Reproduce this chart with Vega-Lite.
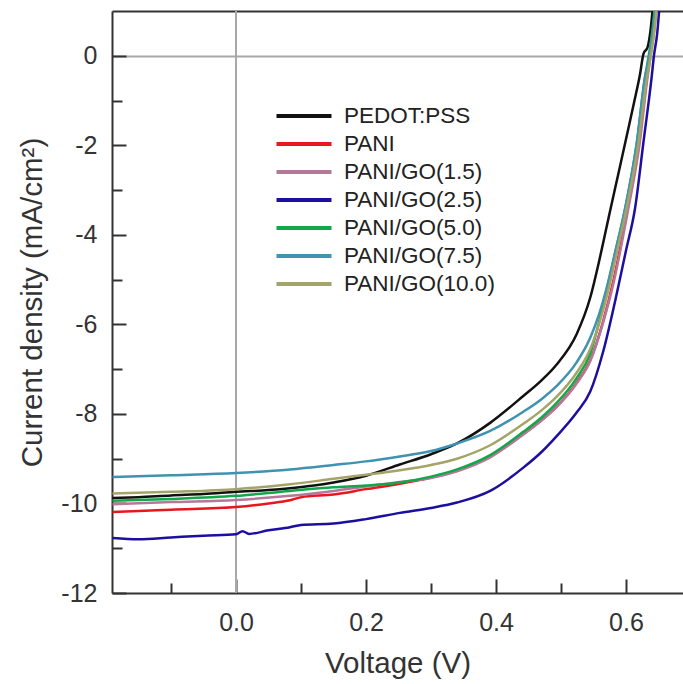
{
  "$schema": "https://vega.github.io/schema/vega-lite/v6.json",
  "width": 571,
  "height": 582,
  "autosize": {"type": "none"},
  "padding": {"left": 112, "top": 11, "right": 0, "bottom": 91},
  "background": "white",
  "config": {
    "view": {"stroke": null},
    "axis": {
      "domainColor": "#333333",
      "domainWidth": 2,
      "tickColor": "#333333",
      "tickWidth": 2,
      "labelFont": "Liberation Sans",
      "labelFontSize": 25,
      "labelColor": "#333333",
      "titleFont": "Liberation Sans",
      "titleFontSize": 29.5,
      "titleFontWeight": "normal",
      "titleColor": "#333333"
    },
    "legend": {
      "labelFont": "Liberation Sans",
      "labelFontSize": 22.5,
      "labelColor": "#222222"
    }
  },
  "data": {"values": [
    {"s":"PEDOT:PSS","v":-0.19,"j":-9.88},{"s":"PEDOT:PSS","v":-0.15,"j":-9.86},{"s":"PEDOT:PSS","v":-0.1,"j":-9.82},{"s":"PEDOT:PSS","v":-0.05,"j":-9.79},{"s":"PEDOT:PSS","v":0,"j":-9.74},{"s":"PEDOT:PSS","v":0.05,"j":-9.7},{"s":"PEDOT:PSS","v":0.083,"j":-9.66},{"s":"PEDOT:PSS","v":0.12,"j":-9.6},{"s":"PEDOT:PSS","v":0.15,"j":-9.53},{"s":"PEDOT:PSS","v":0.2,"j":-9.38},{"s":"PEDOT:PSS","v":0.252,"j":-9.13},{"s":"PEDOT:PSS","v":0.3,"j":-8.9},{"s":"PEDOT:PSS","v":0.34,"j":-8.66},{"s":"PEDOT:PSS","v":0.391,"j":-8.2},{"s":"PEDOT:PSS","v":0.442,"j":-7.6},{"s":"PEDOT:PSS","v":0.47,"j":-7.25},{"s":"PEDOT:PSS","v":0.493,"j":-6.9},{"s":"PEDOT:PSS","v":0.524,"j":-6.22},{"s":"PEDOT:PSS","v":0.545,"j":-5.4},{"s":"PEDOT:PSS","v":0.56,"j":-4.5},{"s":"PEDOT:PSS","v":0.575,"j":-3.5},{"s":"PEDOT:PSS","v":0.588,"j":-2.65},{"s":"PEDOT:PSS","v":0.601,"j":-1.8},{"s":"PEDOT:PSS","v":0.612,"j":-1.07},{"s":"PEDOT:PSS","v":0.6215,"j":-0.42},{"s":"PEDOT:PSS","v":0.627,"j":0.05},{"s":"PEDOT:PSS","v":0.633,"j":0.18},{"s":"PEDOT:PSS","v":0.638,"j":0.6},{"s":"PEDOT:PSS","v":0.642,"j":1.2},

    {"s":"PANI","v":-0.19,"j":-10.19},{"s":"PANI","v":-0.15,"j":-10.17},{"s":"PANI","v":-0.1,"j":-10.14},{"s":"PANI","v":0,"j":-10.08},{"s":"PANI","v":0.05,"j":-10.0},{"s":"PANI","v":0.083,"j":-9.93},{"s":"PANI","v":0.1,"j":-9.86},{"s":"PANI","v":0.15,"j":-9.8},{"s":"PANI","v":0.2,"j":-9.68},{"s":"PANI","v":0.252,"j":-9.56},{"s":"PANI","v":0.3,"j":-9.42},{"s":"PANI","v":0.34,"j":-9.27},{"s":"PANI","v":0.391,"j":-8.95},{"s":"PANI","v":0.442,"j":-8.45},{"s":"PANI","v":0.47,"j":-8.14},{"s":"PANI","v":0.493,"j":-7.84},{"s":"PANI","v":0.524,"j":-7.3},{"s":"PANI","v":0.545,"j":-6.8},{"s":"PANI","v":0.565,"j":-5.92},{"s":"PANI","v":0.581,"j":-5.0},{"s":"PANI","v":0.591,"j":-4.3},{"s":"PANI","v":0.602,"j":-3.46},{"s":"PANI","v":0.62,"j":-1.96},{"s":"PANI","v":0.632,"j":-0.5},{"s":"PANI","v":0.637,"j":0},{"s":"PANI","v":0.642,"j":0.5},{"s":"PANI","v":0.647,"j":1.2},

    {"s":"PANI/GO(1.5)","v":-0.19,"j":-10.02},{"s":"PANI/GO(1.5)","v":-0.1,"j":-9.97},{"s":"PANI/GO(1.5)","v":0,"j":-9.92},{"s":"PANI/GO(1.5)","v":0.083,"j":-9.83},{"s":"PANI/GO(1.5)","v":0.15,"j":-9.72},{"s":"PANI/GO(1.5)","v":0.2,"j":-9.62},{"s":"PANI/GO(1.5)","v":0.252,"j":-9.52},{"s":"PANI/GO(1.5)","v":0.3,"j":-9.43},{"s":"PANI/GO(1.5)","v":0.34,"j":-9.28},{"s":"PANI/GO(1.5)","v":0.391,"j":-8.97},{"s":"PANI/GO(1.5)","v":0.442,"j":-8.46},{"s":"PANI/GO(1.5)","v":0.47,"j":-8.15},{"s":"PANI/GO(1.5)","v":0.493,"j":-7.85},{"s":"PANI/GO(1.5)","v":0.524,"j":-7.32},{"s":"PANI/GO(1.5)","v":0.545,"j":-6.82},{"s":"PANI/GO(1.5)","v":0.565,"j":-5.95},{"s":"PANI/GO(1.5)","v":0.582,"j":-5.0},{"s":"PANI/GO(1.5)","v":0.592,"j":-4.3},{"s":"PANI/GO(1.5)","v":0.603,"j":-3.46},{"s":"PANI/GO(1.5)","v":0.621,"j":-1.96},{"s":"PANI/GO(1.5)","v":0.633,"j":-0.5},{"s":"PANI/GO(1.5)","v":0.638,"j":0},{"s":"PANI/GO(1.5)","v":0.643,"j":0.5},{"s":"PANI/GO(1.5)","v":0.648,"j":1.2},

    {"s":"PANI/GO(2.5)","v":-0.19,"j":-10.77},{"s":"PANI/GO(2.5)","v":-0.15,"j":-10.8},{"s":"PANI/GO(2.5)","v":-0.1,"j":-10.76},{"s":"PANI/GO(2.5)","v":-0.05,"j":-10.72},{"s":"PANI/GO(2.5)","v":0,"j":-10.69},{"s":"PANI/GO(2.5)","v":0.01,"j":-10.62},{"s":"PANI/GO(2.5)","v":0.02,"j":-10.68},{"s":"PANI/GO(2.5)","v":0.05,"j":-10.6},{"s":"PANI/GO(2.5)","v":0.083,"j":-10.53},{"s":"PANI/GO(2.5)","v":0.1,"j":-10.48},{"s":"PANI/GO(2.5)","v":0.15,"j":-10.45},{"s":"PANI/GO(2.5)","v":0.2,"j":-10.35},{"s":"PANI/GO(2.5)","v":0.252,"j":-10.21},{"s":"PANI/GO(2.5)","v":0.3,"j":-10.1},{"s":"PANI/GO(2.5)","v":0.34,"j":-9.98},{"s":"PANI/GO(2.5)","v":0.391,"j":-9.72},{"s":"PANI/GO(2.5)","v":0.442,"j":-9.2},{"s":"PANI/GO(2.5)","v":0.47,"j":-8.85},{"s":"PANI/GO(2.5)","v":0.493,"j":-8.5},{"s":"PANI/GO(2.5)","v":0.524,"j":-7.97},{"s":"PANI/GO(2.5)","v":0.545,"j":-7.5},{"s":"PANI/GO(2.5)","v":0.565,"j":-6.6},{"s":"PANI/GO(2.5)","v":0.586,"j":-5.3},{"s":"PANI/GO(2.5)","v":0.6,"j":-4.35},{"s":"PANI/GO(2.5)","v":0.614,"j":-3.4},{"s":"PANI/GO(2.5)","v":0.6266,"j":-1.96},{"s":"PANI/GO(2.5)","v":0.6395,"j":-0.47},{"s":"PANI/GO(2.5)","v":0.643,"j":0},{"s":"PANI/GO(2.5)","v":0.648,"j":0.5},{"s":"PANI/GO(2.5)","v":0.652,"j":1.2},

    {"s":"PANI/GO(5.0)","v":-0.19,"j":-9.94},{"s":"PANI/GO(5.0)","v":-0.1,"j":-9.9},{"s":"PANI/GO(5.0)","v":0,"j":-9.83},{"s":"PANI/GO(5.0)","v":0.083,"j":-9.72},{"s":"PANI/GO(5.0)","v":0.15,"j":-9.64},{"s":"PANI/GO(5.0)","v":0.2,"j":-9.6},{"s":"PANI/GO(5.0)","v":0.252,"j":-9.53},{"s":"PANI/GO(5.0)","v":0.3,"j":-9.4},{"s":"PANI/GO(5.0)","v":0.34,"j":-9.24},{"s":"PANI/GO(5.0)","v":0.391,"j":-8.92},{"s":"PANI/GO(5.0)","v":0.442,"j":-8.4},{"s":"PANI/GO(5.0)","v":0.47,"j":-8.08},{"s":"PANI/GO(5.0)","v":0.493,"j":-7.76},{"s":"PANI/GO(5.0)","v":0.524,"j":-7.2},{"s":"PANI/GO(5.0)","v":0.545,"j":-6.65},{"s":"PANI/GO(5.0)","v":0.558,"j":-5.98},{"s":"PANI/GO(5.0)","v":0.57,"j":-5.25},{"s":"PANI/GO(5.0)","v":0.584,"j":-4.35},{"s":"PANI/GO(5.0)","v":0.598,"j":-3.46},{"s":"PANI/GO(5.0)","v":0.6165,"j":-1.96},{"s":"PANI/GO(5.0)","v":0.629,"j":-0.5},{"s":"PANI/GO(5.0)","v":0.635,"j":0},{"s":"PANI/GO(5.0)","v":0.64,"j":0.5},{"s":"PANI/GO(5.0)","v":0.645,"j":1.2},

    {"s":"PANI/GO(7.5)","v":-0.19,"j":-9.41},{"s":"PANI/GO(7.5)","v":-0.1,"j":-9.37},{"s":"PANI/GO(7.5)","v":0,"j":-9.32},{"s":"PANI/GO(7.5)","v":0.083,"j":-9.24},{"s":"PANI/GO(7.5)","v":0.15,"j":-9.14},{"s":"PANI/GO(7.5)","v":0.2,"j":-9.06},{"s":"PANI/GO(7.5)","v":0.252,"j":-8.95},{"s":"PANI/GO(7.5)","v":0.3,"j":-8.83},{"s":"PANI/GO(7.5)","v":0.34,"j":-8.66},{"s":"PANI/GO(7.5)","v":0.391,"j":-8.38},{"s":"PANI/GO(7.5)","v":0.442,"j":-7.95},{"s":"PANI/GO(7.5)","v":0.47,"j":-7.67},{"s":"PANI/GO(7.5)","v":0.493,"j":-7.38},{"s":"PANI/GO(7.5)","v":0.524,"j":-6.85},{"s":"PANI/GO(7.5)","v":0.545,"j":-6.3},{"s":"PANI/GO(7.5)","v":0.558,"j":-5.8},{"s":"PANI/GO(7.5)","v":0.57,"j":-5.2},{"s":"PANI/GO(7.5)","v":0.584,"j":-4.35},{"s":"PANI/GO(7.5)","v":0.598,"j":-3.46},{"s":"PANI/GO(7.5)","v":0.6165,"j":-1.96},{"s":"PANI/GO(7.5)","v":0.629,"j":-0.5},{"s":"PANI/GO(7.5)","v":0.636,"j":0},{"s":"PANI/GO(7.5)","v":0.641,"j":0.5},{"s":"PANI/GO(7.5)","v":0.646,"j":1.2},

    {"s":"PANI/GO(10.0)","v":-0.19,"j":-9.78},{"s":"PANI/GO(10.0)","v":-0.1,"j":-9.74},{"s":"PANI/GO(10.0)","v":0,"j":-9.68},{"s":"PANI/GO(10.0)","v":0.083,"j":-9.57},{"s":"PANI/GO(10.0)","v":0.15,"j":-9.45},{"s":"PANI/GO(10.0)","v":0.2,"j":-9.36},{"s":"PANI/GO(10.0)","v":0.252,"j":-9.26},{"s":"PANI/GO(10.0)","v":0.3,"j":-9.14},{"s":"PANI/GO(10.0)","v":0.34,"j":-9.0},{"s":"PANI/GO(10.0)","v":0.391,"j":-8.7},{"s":"PANI/GO(10.0)","v":0.442,"j":-8.22},{"s":"PANI/GO(10.0)","v":0.47,"j":-7.92},{"s":"PANI/GO(10.0)","v":0.493,"j":-7.62},{"s":"PANI/GO(10.0)","v":0.524,"j":-7.08},{"s":"PANI/GO(10.0)","v":0.545,"j":-6.55},{"s":"PANI/GO(10.0)","v":0.56,"j":-5.92},{"s":"PANI/GO(10.0)","v":0.575,"j":-5.1},{"s":"PANI/GO(10.0)","v":0.588,"j":-4.25},{"s":"PANI/GO(10.0)","v":0.6,"j":-3.46},{"s":"PANI/GO(10.0)","v":0.619,"j":-1.96},{"s":"PANI/GO(10.0)","v":0.632,"j":-0.5},{"s":"PANI/GO(10.0)","v":0.638,"j":0},{"s":"PANI/GO(10.0)","v":0.643,"j":0.5},{"s":"PANI/GO(10.0)","v":0.648,"j":1.2}
  ]},
  "resolve": {"axis": {"x": "independent"}},
  "layer": [
    {
      "data": {"values": [{"v": 0}]},
      "mark": {"type": "rule", "color": "#a8a8a8", "strokeWidth": 2},
      "encoding": {
        "x": {
          "field": "v", "type": "quantitative",
          "scale": {"domain": [-0.1908, 0.6877], "nice": false, "zero": false},
          "axis": {"orient": "top", "domain": true, "ticks": false, "labels": false, "grid": false, "title": null}
        }
      }
    },
    {
      "mark": {"type": "line", "strokeWidth": 2.5, "clip": true, "interpolate": "monotone"},
      "encoding": {
        "x": {
          "field": "v", "type": "quantitative",
          "scale": {"domain": [-0.1908, 0.6877], "nice": false, "zero": false},
          "axis": {
            "orient": "bottom",
            "title": "Voltage (V)",
            "titlePadding": 14,
            "values": [-0.1, 0, 0.1, 0.2, 0.3, 0.4, 0.5, 0.6],
            "grid": false,
            "tickSize": {"condition": {"test": "abs(round(datum.value*10)) % 2 == 0", "value": -14}, "value": -10},
            "labelPadding": 31,
            "labelExpr": "abs(round(datum.value*10)) % 2 == 0 && datum.value >= 0 ? format(datum.value, '.1f') : ''"
          }
        },
        "y": {
          "field": "j", "type": "quantitative",
          "scale": {"domain": [-12, 1], "nice": false, "zero": false},
          "axis": {
            "title": "Current density (mA/cm²)",
            "titlePadding": 13,
            "values": [-12, -11, -10, -9, -8, -7, -6, -5, -4, -3, -2, -1, 0],
            "grid": true,
            "gridColor": "#a8a8a8",
            "gridWidth": 2,
            "gridOpacity": {"condition": {"test": "datum.value == 0", "value": 1}, "value": 0},
            "tickSize": {"condition": {"test": "datum.value % 2 == 0", "value": -14}, "value": -10},
            "labelPadding": 29,
            "labelExpr": "datum.value % 2 == 0 ? '' + datum.value : ''"
          }
        },
        "color": {
          "field": "s", "type": "nominal",
          "scale": {
            "domain": ["PEDOT:PSS", "PANI", "PANI/GO(1.5)", "PANI/GO(2.5)", "PANI/GO(5.0)", "PANI/GO(7.5)", "PANI/GO(10.0)"],
            "range": ["#111111", "#e8161e", "#b5789a", "#1c0fa0", "#10a848", "#3f93b0", "#a5a468"]
          },
          "legend": {
            "orient": "none",
            "legendX": 176,
            "legendY": 89,
            "title": null,
            "padding": 0,
            "symbolType": "M-2,0H2",
            "symbolSize": 756,
            "symbolStrokeWidth": 4,
            "labelOffset": 24,
            "rowPadding": 0
          }
        }
      }
    }
  ]
}
